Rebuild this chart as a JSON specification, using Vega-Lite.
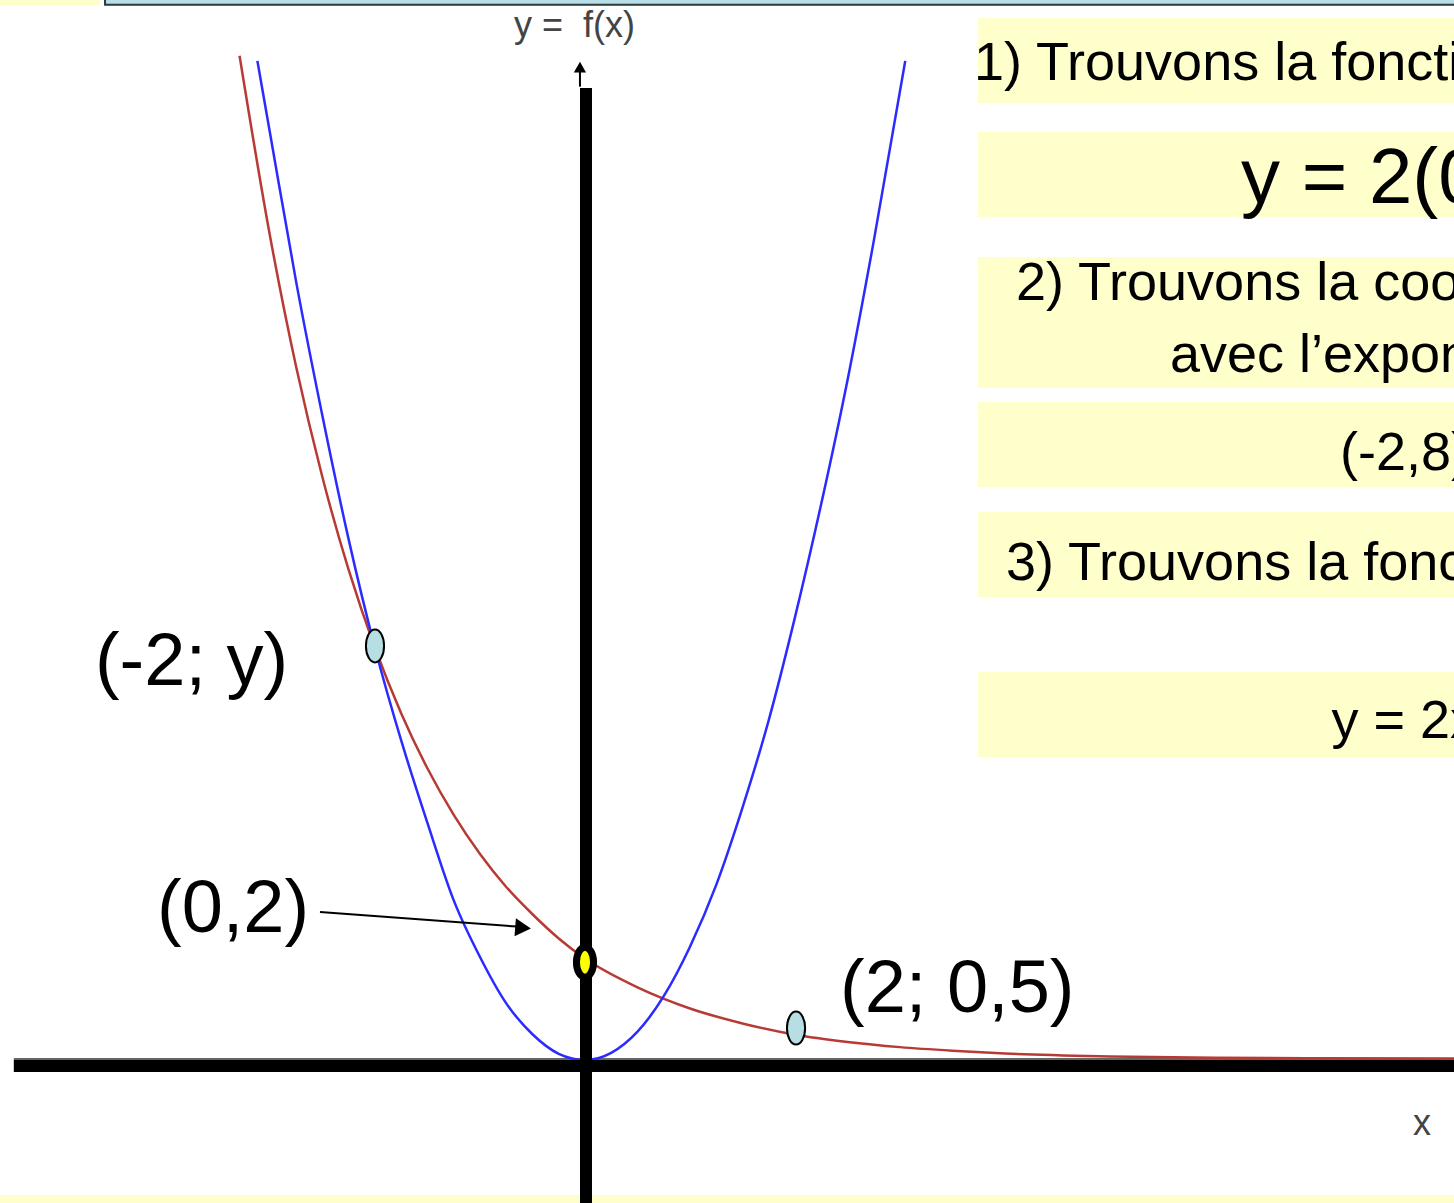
{
  "$schema": "https://vega.github.io/schema/vega-lite/v6.json",
  "width": 1454,
  "height": 1203,
  "padding": 0,
  "autosize": {"type": "none"},
  "background": "white",
  "config": {"view": {"stroke": null}},
  "datasets": {
    "bg": [
      {"x": 3.743, "x2": 8.2762, "y": 20.233, "y2": 18.583},
      {"x": 3.743, "x2": 8.2762, "y": 18.019, "y2": 16.369},
      {"x": 3.743, "x2": 8.2762, "y": 15.592, "y2": 13.049},
      {"x": 3.743, "x2": 8.2762, "y": 12.777, "y2": 11.126},
      {"x": 3.743, "x2": 8.2762, "y": 10.641, "y2": 8.990},
      {"x": 3.743, "x2": 8.2762, "y": 7.534, "y2": 5.883},
      {"x": -5.5714, "x2": -4.619, "y": 20.65, "y2": 20.486},
      {"x": -5.5714, "x2": 8.2762, "y": -2.621, "y2": -2.80}
    ],
    "topbar": [
      {"x": -4.571, "x2": 8.40, "y": 20.70, "y2": 20.49}
    ],
    "red": [
      {"x": -3.29, "y": 19.5}, {"x": -3.0, "y": 16.0}, {"x": -2.75, "y": 13.45},
      {"x": -2.5, "y": 11.31}, {"x": -2.25, "y": 9.51}, {"x": -2.0, "y": 8.0},
      {"x": -1.75, "y": 6.73}, {"x": -1.5, "y": 5.66}, {"x": -1.25, "y": 4.76},
      {"x": -1.0, "y": 4.0}, {"x": -0.75, "y": 3.36}, {"x": -0.5, "y": 2.83},
      {"x": -0.25, "y": 2.36}, {"x": 0.0, "y": 1.97}, {"x": 0.5, "y": 1.41},
      {"x": 1.0, "y": 1.0}, {"x": 1.5, "y": 0.71}, {"x": 2.0, "y": 0.49},
      {"x": 2.5, "y": 0.35}, {"x": 3.0, "y": 0.25}, {"x": 3.5, "y": 0.18},
      {"x": 4.0, "y": 0.125}, {"x": 5.0, "y": 0.07}, {"x": 6.0, "y": 0.045},
      {"x": 7.0, "y": 0.035}, {"x": 8.3, "y": 0.03}
    ],
    "blue": [
      {"x": -3.12, "y": 19.4}, {"x": -3.0, "y": 18.0}, {"x": -2.75, "y": 15.1},
      {"x": -2.5, "y": 12.5}, {"x": -2.25, "y": 10.1}, {"x": -2.0, "y": 8.0},
      {"x": -1.75, "y": 6.2}, {"x": -1.5, "y": 4.6}, {"x": -1.25, "y": 3.1},
      {"x": -1.0, "y": 2.0}, {"x": -0.75, "y": 1.1}, {"x": -0.5, "y": 0.5},
      {"x": -0.25, "y": 0.12}, {"x": 0.0, "y": 0.0}, {"x": 0.25, "y": 0.14},
      {"x": 0.5, "y": 0.55}, {"x": 0.75, "y": 1.24}, {"x": 1.0, "y": 2.2},
      {"x": 1.25, "y": 3.4}, {"x": 1.5, "y": 4.9}, {"x": 1.75, "y": 6.6},
      {"x": 2.0, "y": 8.6}, {"x": 2.25, "y": 10.8}, {"x": 2.5, "y": 13.2},
      {"x": 2.75, "y": 15.9}, {"x": 3.05, "y": 19.4}
    ],
    "grayline": [
      {"x": -5.44, "x2": 8.3, "y": 0.02, "y2": 0.02}
    ],
    "thickaxes": [
      {"x": -5.44, "x2": 8.3, "y": -0.117, "y2": -0.117},
      {"x": 0.0095, "x2": 0.0095, "y": 18.874, "y2": -2.9}
    ],
    "thinlines": [
      {"x": -0.048, "x2": -0.048, "y": 18.9, "y2": 19.2},
      {"x": -2.524, "x2": -0.648, "y": 2.874, "y2": 2.59}
    ],
    "headright": [{"x": -0.59, "y": 2.565}],
    "headup": [{"x": -0.048, "y": 19.28}],
    "bluepts": [{"x": -2.0, "y": 8.04}, {"x": 2.01, "y": 0.62}],
    "yellowpt": [{"x": 0.0, "y": 1.90}],
    "bigtext": [
      {"x": -4.667, "y": 7.28, "t": "(-2; y)"},
      {"x": -4.076, "y": 2.485, "t": "(0,2)"},
      {"x": 2.429, "y": 0.932, "t": "(2; 0,5)"}
    ],
    "eqtext": [
      {"x": 6.248, "y": 16.64, "t": "y = 2(0,5)ˣ"}
    ],
    "midtext": [
      {"x": 3.705, "y": 19.03, "t": "1) Trouvons la fonction exponentielle"},
      {"x": 4.105, "y": 14.757, "t": "2) Trouvons la coordonnée (-2; y)"},
      {"x": 5.571, "y": 13.359, "t": "avec l’exponentielle"},
      {"x": 7.19, "y": 11.456, "t": "(-2,8)"},
      {"x": 4.01, "y": 9.32, "t": "3) Trouvons la fonction quadratique"},
      {"x": 7.11, "y": 6.25, "t": "y = 2x²"}
    ],
    "smalltext": [
      {"x": -0.676, "y": 19.86, "t": "y =\u00a0\u00a0f(x)"},
      {"x": 7.886, "y": -1.456, "t": "x"}
    ]
  },
  "encoding": {
    "x": {"field": "x", "type": "quantitative", "scale": {"domain": [-5.5714, 8.2762], "nice": false, "zero": false}, "axis": null},
    "y": {"field": "y", "type": "quantitative", "scale": {"domain": [-2.7767, 20.5825], "nice": false, "zero": false}, "axis": null}
  },
  "layer": [
    {
      "data": {"name": "bg"},
      "mark": {"type": "rect", "fill": "#ffffcc", "stroke": null},
      "encoding": {"x2": {"field": "x2"}, "y2": {"field": "y2"}}
    },
    {
      "data": {"name": "topbar"},
      "mark": {"type": "rect", "fill": "#b7dde6", "stroke": "#2b3a3a", "strokeWidth": 2},
      "encoding": {"x2": {"field": "x2"}, "y2": {"field": "y2"}}
    },
    {
      "data": {"name": "grayline"},
      "mark": {"type": "rule", "color": "#666666", "strokeWidth": 2},
      "encoding": {"x2": {"field": "x2"}, "y2": {"field": "y2"}}
    },
    {
      "data": {"name": "red"},
      "mark": {"type": "line", "color": "#b83a35", "strokeWidth": 2.5, "interpolate": "monotone"},
      "encoding": {"order": {"field": "x", "type": "quantitative"}}
    },
    {
      "data": {"name": "blue"},
      "mark": {"type": "line", "color": "#2b2bff", "strokeWidth": 2.5, "interpolate": "monotone"},
      "encoding": {"order": {"field": "x", "type": "quantitative"}}
    },
    {
      "data": {"name": "thickaxes"},
      "mark": {"type": "rule", "color": "black", "strokeWidth": 12},
      "encoding": {"x2": {"field": "x2"}, "y2": {"field": "y2"}}
    },
    {
      "data": {"name": "thinlines"},
      "mark": {"type": "rule", "color": "black", "strokeWidth": 2},
      "encoding": {"x2": {"field": "x2"}, "y2": {"field": "y2"}}
    },
    {
      "data": {"name": "headright"},
      "mark": {"type": "point", "shape": "triangle-right", "filled": true, "color": "black", "size": 330, "angle": 4.3, "opacity": 1}
    },
    {
      "data": {"name": "headup"},
      "mark": {"type": "point", "shape": "triangle-up", "filled": true, "color": "black", "size": 150, "opacity": 1}
    },
    {
      "data": {"name": "bluepts"},
      "mark": {"type": "point", "shape": "M0,-1C0.304,-1,0.55,-0.552,0.55,0C0.55,0.552,0.304,1,0,1C-0.304,1,-0.55,0.552,-0.55,0C-0.55,-0.552,-0.304,-1,0,-1Z", "filled": true, "fill": "#b7dfe3", "stroke": "black", "strokeWidth": 2, "size": 1089, "opacity": 1}
    },
    {
      "data": {"name": "yellowpt"},
      "mark": {"type": "point", "shape": "M0,-1C0.315,-1,0.57,-0.552,0.57,0C0.57,0.552,0.315,1,0,1C-0.315,1,-0.57,0.552,-0.57,0C-0.57,-0.552,-0.315,-1,0,-1Z", "filled": true, "fill": "#ffff00", "stroke": "black", "strokeWidth": 7, "size": 900, "opacity": 1}
    },
    {
      "data": {"name": "bigtext"},
      "mark": {"type": "text", "font": "Liberation Sans", "fontSize": 74, "align": "left", "baseline": "alphabetic", "color": "black", "clip": true},
      "encoding": {"text": {"field": "t"}}
    },
    {
      "data": {"name": "eqtext"},
      "mark": {"type": "text", "font": "Liberation Sans", "fontSize": 78, "align": "left", "baseline": "alphabetic", "color": "black", "clip": true},
      "encoding": {"text": {"field": "t"}}
    },
    {
      "data": {"name": "midtext"},
      "mark": {"type": "text", "font": "Liberation Sans", "fontSize": 54, "align": "left", "baseline": "alphabetic", "color": "black", "clip": true},
      "encoding": {"text": {"field": "t"}}
    },
    {
      "data": {"name": "smalltext"},
      "mark": {"type": "text", "font": "Liberation Sans", "fontSize": 36, "align": "left", "baseline": "alphabetic", "color": "#444444", "clip": true},
      "encoding": {"text": {"field": "t"}}
    }
  ]
}
